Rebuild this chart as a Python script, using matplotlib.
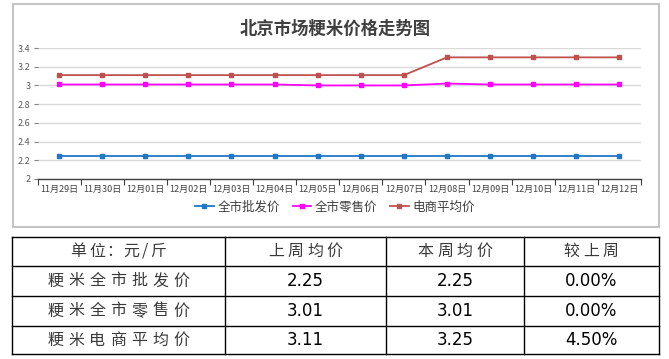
import matplotlib
matplotlib.use('Agg')
import matplotlib.pyplot as plt
from matplotlib.patches import Rectangle
from matplotlib.lines import Line2D

plt.rcParams['font.family'] = ['Noto Sans CJK SC', 'DejaVu Sans']

W, H = 669, 359

# data
dates = ['11月29日', '11月30日', '12月01日', '12月02日', '12月03日', '12月04日', '12月05日',
         '12月06日', '12月07日', '12月08日', '12月09日', '12月10日', '12月11日', '12月12日']
wholesale = [2.25] * 14
retail = [3.01, 3.01, 3.01, 3.01, 3.01, 3.01, 3.00, 3.00, 3.00, 3.02, 3.01, 3.01, 3.01, 3.01]
ecommerce = [3.11, 3.11, 3.11, 3.11, 3.11, 3.11, 3.11, 3.11, 3.11, 3.30, 3.30, 3.30, 3.30, 3.30]
series_names = ['全市批发价', '全市零售价', '电商平均价']
series_colors = ['#1f77c8', '#ff00ff', '#c0504d']

table_header = ['单位：元/斤', '上周均价', '本周均价', '较上周']
table_rows = ['粳米全市批发价', '粳米全市零售价', '粳米电商平均价']
last_week = ['2.25', '3.01', '3.11']
this_week = ['2.25', '3.01', '3.25']
change = ['0.00%', '0.00%', '4.50%']


def fx(px):
    return px / W


def fy(py):
    return 1 - py / H


def spaced_text(xc, yc, txt, pitch=20.5):
    # the table text is set with wide letter spacing, so place char by char
    widths = [8 if ch == '/' else (14 if ch == '：' else pitch) for ch in txt]
    total = sum(widths)
    left = xc - total / 2
    for ch, w in zip(txt, widths):
        fig.text(fx(left + w / 2), fy(yc), ch, ha='center', va='center',
                 fontsize=11.5, color='#3a3a3a')
        left += w


fig = plt.figure(figsize=(W / 100, H / 100), dpi=100)

# chart frame
fig.add_artist(Rectangle((fx(12.7), fy(227.3)), fx(659) - fx(12.7), fy(4) - fy(227.3),
                         transform=fig.transFigure, fill=False, ec='#c4c4c4', lw=1.5))

ax = fig.add_axes([fx(37.5), fy(179), fx(641) - fx(37.5), fy(48) - fy(179)])
x = list(range(len(dates)))
for vals, name, c in zip([wholesale, retail, ecommerce], series_names, series_colors):
    ax.plot(x, vals, '-', color=c, lw=1.3, marker='s', ms=2.8, label=name)

ax.set_xlim(-0.5, len(dates) - 0.5)
ax.set_ylim(2, 3.4)
ax.set_yticks([2, 2.2, 2.4, 2.6, 2.8, 3, 3.2, 3.4])
ax.set_yticklabels(['2', '2.2', '2.4', '2.6', '2.8', '3', '3.2', '3.4'])
ax.set_xticks(x)
ax.set_xticklabels(dates)
ax.set_xticks([i - 0.5 for i in range(len(dates) + 1)], minor=True)
ax.tick_params(axis='x', which='major', length=0, labelsize=6.5, colors='#404040', pad=4)
ax.tick_params(axis='x', which='minor', length=4, color='#404040', width=0.8)
ax.tick_params(axis='y', length=3, color='#808080', labelsize=6.5, labelcolor='#595959', pad=2)
ax.grid(axis='y', color='#d9d9d9', lw=1)
ax.set_axisbelow(True)
for s in ['left', 'right', 'top']:
    ax.spines[s].set_visible(False)
ax.spines['bottom'].set_color('#404040')
ax.spines['bottom'].set_linewidth(1)

fig.text(fx(335), fy(29), '北京市场粳米价格走势图', ha='center', va='center',
         fontsize=12.5, fontweight='bold', color='#404040')

fig.legend(loc='center', bbox_to_anchor=(fx(335), fy(207)), ncol=3, frameon=False,
           fontsize=9, handlelength=1.5, handletextpad=0.3, columnspacing=1.0,
           labelcolor='#404040')

# table
cols = [11.7, 225, 385.7, 524, 658.7]
rows = [236.7, 266, 296, 326, 354.3]
for cx in cols:
    fig.add_artist(Line2D([fx(cx), fx(cx)], [fy(rows[0]), fy(rows[-1])],
                          transform=fig.transFigure, color='black', lw=1))
for ry in rows:
    fig.add_artist(Line2D([fx(cols[0]), fx(cols[-1])], [fy(ry), fy(ry)],
                          transform=fig.transFigure, color='black', lw=1))

cells = [table_header] + [[table_rows[i], last_week[i], this_week[i], change[i]] for i in range(3)]
for r, row in enumerate(cells):
    yc = (rows[r] + rows[r + 1]) / 2
    for c, txt in enumerate(row):
        xc = (cols[c] + cols[c + 1]) / 2
        if r == 0 or c == 0:
            spaced_text(xc, yc, txt, pitch=19.5 if r == 0 else 21)
        else:
            fig.text(fx(xc), fy(yc), txt, ha='center', va='center', fontsize=12,
                     color='black', family='DejaVu Sans')

fig.savefig('out.png', dpi=100)
